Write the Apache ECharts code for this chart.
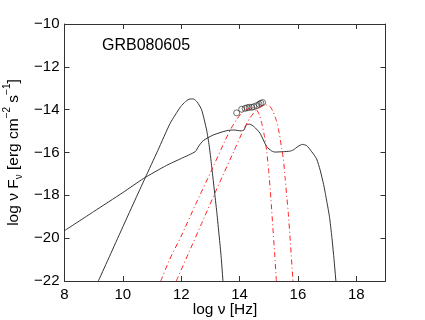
<!DOCTYPE html>
<html lang="en">
<head>
    <meta charset="UTF-8">
    <title>GRB080605 SED</title>
    <script src="https://cdn.jsdelivr.net/npm/echarts@6/dist/echarts.min.js"></script>
    <style>
        html, body { margin: 0; padding: 0; background: #fff; }
        #sed_show { width: 425px; height: 320px; }
    </style>
</head>
<body>
    <div id="sed_show"></div>
<script>
    // values: [log nu, log nuFnu]
    const lowPeak = [[9.16, -22], [9.5, -20.98], [9.9, -19.77], [10.4, -18.27], [10.76, -17.2],
        [11.2, -15.9], [11.62, -14.64], [11.98, -13.86], [12.15, -13.62], [12.3, -13.5],
        [12.42, -13.5], [12.55, -13.65], [12.7, -14.01], [12.87, -14.95], [12.96, -15.7],
        [13.04, -16.6], [13.13, -17.7], [13.22, -18.8], [13.3, -19.9], [13.37, -20.9], [13.43, -22]];

    const broadModel = [[8, -19.65], [9, -18.76], [10, -17.87], [10.7, -17.22], [11.5, -16.6],
        [12.0, -16.28], [12.48, -15.96], [12.6, -15.7], [12.75, -15.45], [13.1, -15.18],
        [13.56, -14.98], [13.8, -14.95], [14.05, -14.99], [14.15, -14.95], [14.24, -14.7],
        [14.35, -14.68], [14.5, -14.8], [14.7, -15.1], [14.93, -15.73], [15.1, -15.93],
        [15.21, -15.98], [15.5, -15.96], [15.72, -15.94], [15.84, -15.88], [16.0, -15.72],
        [16.15, -15.62], [16.3, -15.68], [16.47, -15.96], [16.64, -16.3], [16.76, -16.82],
        [16.88, -17.5], [16.98, -18.22], [17.08, -19.0], [17.16, -19.93], [17.23, -20.9], [17.3, -22]];

    const redA = [[11.3, -22], [11.6, -21.0], [12.0, -19.9], [12.5, -18.4], [13.0, -16.95],
        [13.5, -15.45], [13.7, -14.9], [13.9, -14.45], [14.1, -14.12], [14.3, -13.95],
        [14.45, -13.9], [14.58, -14.0], [14.68, -14.25], [14.78, -14.75], [14.86, -15.3],
        [14.93, -15.96], [15.0, -16.9], [15.07, -18.1], [15.14, -19.5], [15.2, -20.7], [15.26, -22]];

    const redB = [[11.83, -22], [12.3, -20.55], [12.8, -19.0], [13.3, -17.45], [13.8, -15.95],
        [14.13, -14.95], [14.35, -14.4], [14.55, -14.05], [14.75, -13.85], [14.9, -13.78],
        [15.04, -13.85], [15.15, -14.1], [15.27, -14.55], [15.36, -15.1], [15.44, -15.8],
        [15.5, -16.3], [15.56, -17.2], [15.62, -18.1], [15.67, -18.84], [15.74, -20.2], [15.83, -22]];

    const obsX = [13.90, 14.07, 14.19, 14.26, 14.33, 14.42, 14.49, 14.59, 14.67, 14.73, 14.79];
    const obsY = [-14.15, -13.98, -13.94, -13.91, -13.89, -13.89, -13.86, -13.81, -13.75, -13.70, -13.67];

    const xTicks = [8, 19, 2];
    const yTicks = [-22, -10, 2];

    (function () {
        let myChart = echarts.init(document.getElementById('sed_show'));
        let font = 'Liberation Sans, Arial, sans-serif';
        let minus = function (v) { return String(v).replace('-', '\u2212'); };
        let line = { lineStyle: { color: '#333', width: 1 } };
        let tick = { inside: true, length: 5, lineStyle: { color: '#333' } };

        let option = {
            animation: false,
            title: {
                text: 'GRB080605',
                left: 102,
                top: 38,
                padding: 0,
                textStyle: { fontSize: 16, fontWeight: 'normal', color: '#000', fontFamily: font }
            },
            grid: { left: 64.5, right: 39.5, top: 24, bottom: 39, containLabel: false, outerBoundsMode: 'none' },
            xAxis: [
                {
                    type: 'value', min: xTicks[0], max: xTicks[1], interval: xTicks[2],
                    name: 'log \u03bd [Hz]', nameLocation: 'middle', nameGap: 21, nameMoveOverlap: false,
                    nameTextStyle: { fontSize: 15.5, color: '#000', fontFamily: font },
                    axisLine: line, axisTick: tick, splitLine: { show: false },
                    axisLabel: { fontSize: 15, color: '#000', fontFamily: font, margin: 6, showMaxLabel: false }
                },
                {
                    type: 'value', position: 'top', min: xTicks[0], max: xTicks[1], interval: xTicks[2],
                    axisLine: line, axisTick: tick, axisLabel: { show: false }, splitLine: { show: false }
                }
            ],
            yAxis: [
                {
                    type: 'value', min: yTicks[0], max: yTicks[1], interval: yTicks[2],
                    name: '{n|log \u03bd F}{sub|\u03bd}{n| [erg cm}{sup|\u22122}{n| s}{sup|\u22121}{n|]}',
                    nameLocation: 'middle', nameGap: 40, nameMoveOverlap: false,
                    nameTextStyle: {
                        color: '#000', fontFamily: font,
                        rich: {
                            n: { fontSize: 15.5, lineHeight: 22, fontFamily: font, color: '#000' },
                            sub: { fontSize: 10, lineHeight: 10, verticalAlign: 'bottom', fontFamily: font, color: '#000' },
                            sup: { fontSize: 10, lineHeight: 10, verticalAlign: 'top', fontFamily: font, color: '#000' }
                        }
                    },
                    axisLine: line, axisTick: tick, splitLine: { show: false },
                    axisLabel: { fontSize: 15, color: '#000', fontFamily: font, margin: 5, formatter: minus }
                },
                {
                    type: 'value', position: 'right', min: yTicks[0], max: yTicks[1], interval: yTicks[2],
                    axisLine: line, axisTick: tick, axisLabel: { show: false }, splitLine: { show: false }
                }
            ],
            series: [
                {
                    type: 'line', data: lowPeak, symbol: 'none', smooth: 0.2,
                    lineStyle: { color: '#333', width: 1 }
                },
                {
                    type: 'line', data: broadModel, symbol: 'none', smooth: 0.2,
                    lineStyle: { color: '#333', width: 1 }
                },
                {
                    type: 'line', data: redA, symbol: 'none', smooth: 0.2,
                    lineStyle: { color: '#ff2020', width: 1, type: [5, 3, 1, 3] }
                },
                {
                    type: 'line', data: redB, symbol: 'none', smooth: 0.2,
                    lineStyle: { color: '#ff2020', width: 1, type: [5, 3, 1, 3] }
                },
                {
                    type: 'scatter', symbol: 'circle', symbolSize: 6,
                    data: obsX.map(function (x, i) { return [x, obsY[i]]; }),
                    itemStyle: { color: 'transparent', borderColor: '#222', borderWidth: 0.8 }
                }
            ]
        };
        myChart.setOption(option);
    })()
</script>
</body>
</html>
